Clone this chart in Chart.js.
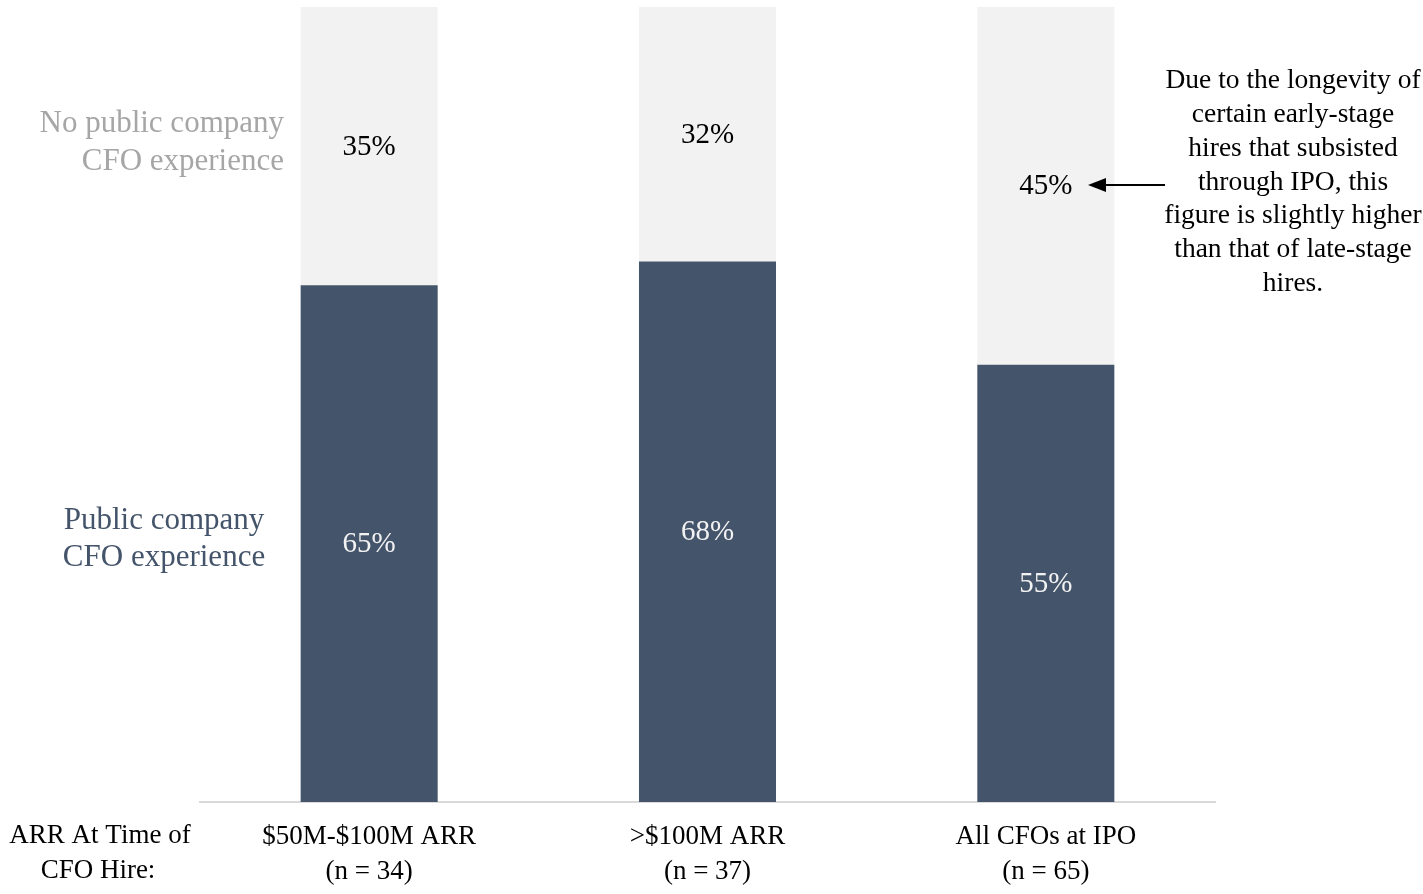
<!doctype html>
<html lang="en">
<head>
<meta charset="utf-8">
<title>CFO experience</title>
<script src="https://cdn.jsdelivr.net/npm/chart.js"></script>
<style>
  html, body { margin: 0; padding: 0; background: #fff; }
  #wrap { width: 1423px; height: 894px; position: relative; }
</style>
</head>
<body>
<div id="wrap"><canvas id="cfoChart"></canvas></div>
<script>
// data
var categories = [["$50M-$100M ARR", "(n = 34)"], [">$100M ARR", "(n = 37)"], ["All CFOs at IPO", "(n = 65)"]];
var publicExp = [65, 68, 55];
var noPublicExp = [35, 32, 45];
var note = ["Due to the longevity of", "certain early-stage", "hires that subsisted", "through IPO, this", "figure is slightly higher", "than that of late-stage", "hires."];

var serif = "'Liberation Serif', 'DejaVu Serif', serif";
var darkBlue = '#44546a';
var lightGray = '#f2f2f2';

var extras = {
  id: 'extras',
  afterDatasetsDraw: function (chart) {
    var ctx = chart.ctx;
    ctx.save();
    ctx.textBaseline = 'middle';

    // values inside segments
    ctx.font = '29px ' + serif;
    ctx.textAlign = 'center';
    chart.data.datasets.forEach(function (ds, di) {
      var meta = chart.getDatasetMeta(di);
      meta.data.forEach(function (bar, i) {
        var mid = (bar.y + bar.base) / 2;
        ctx.fillStyle = di === 0 ? '#f2f2f2' : '#000';
        ctx.fillText(ds.data[i] + '%', bar.x, mid + 1);
      });
    });

    // series labels on the left
    ctx.font = '31px ' + serif;
    ctx.textAlign = 'right';
    ctx.fillStyle = '#a6a6a6';
    ctx.fillText('No public company', 284, 124);
    ctx.fillText('CFO experience', 284, 162);
    ctx.fillStyle = darkBlue;
    ctx.textAlign = 'center';
    ctx.fillText('Public company', 164, 521);
    ctx.fillText('CFO experience', 164, 558);

    // axis title
    ctx.font = '27px ' + serif;
    ctx.fillStyle = '#000';
    ctx.fillText('ARR At Time of', 100, 836);
    ctx.fillText('CFO Hire:', 98, 871);

    // annotation
    ctx.font = '27.5px ' + serif;
    note.forEach(function (line, i) {
      ctx.fillText(line, 1293, 81 + i * 33.8);
    });

    // arrow
    var ay = 185;
    ctx.strokeStyle = '#000';
    ctx.lineWidth = 2;
    ctx.beginPath();
    ctx.moveTo(1165, ay);
    ctx.lineTo(1100, ay);
    ctx.stroke();
    ctx.beginPath();
    ctx.moveTo(1088, ay);
    ctx.lineTo(1106, ay - 7);
    ctx.lineTo(1106, ay + 7);
    ctx.closePath();
    ctx.fillStyle = '#000';
    ctx.fill();
    ctx.restore();
  }
};

var ctx = document.getElementById('cfoChart').getContext('2d');
var chart = new Chart(ctx, {
  type: 'bar',
  data: {
    labels: categories,
    datasets: [{
      label: 'Public company CFO experience',
      data: publicExp,
      backgroundColor: darkBlue,
      barPercentage: 0.81,
      categoryPercentage: 0.5
    }, {
      label: 'No public company CFO experience',
      data: noPublicExp,
      backgroundColor: lightGray,
      barPercentage: 0.81,
      categoryPercentage: 0.5
    }]
  },
  options: {
    responsive: true,
    maintainAspectRatio: false,
    animation: false,
    layout: { padding: { left: 200, right: 208, top: 7, bottom: 0 } },
    plugins: {
      legend: { display: false },
      tooltip: { enabled: false }
    },
    scales: {
      x: {
        stacked: true,
        grid: { display: false, drawTicks: false },
        border: { color: '#d9d9d9', width: 2 },
        afterFit: function (scale) { scale.height = 92; },
        ticks: {
          color: '#000',
          font: { family: serif, size: 27, lineHeight: 1.3 },
          padding: 17,
          maxRotation: 0
        }
      },
      y: {
        stacked: true,
        display: false,
        min: 0,
        max: 100
      }
    }
  },
  plugins: [extras]
});
</script>
</body>
</html>
